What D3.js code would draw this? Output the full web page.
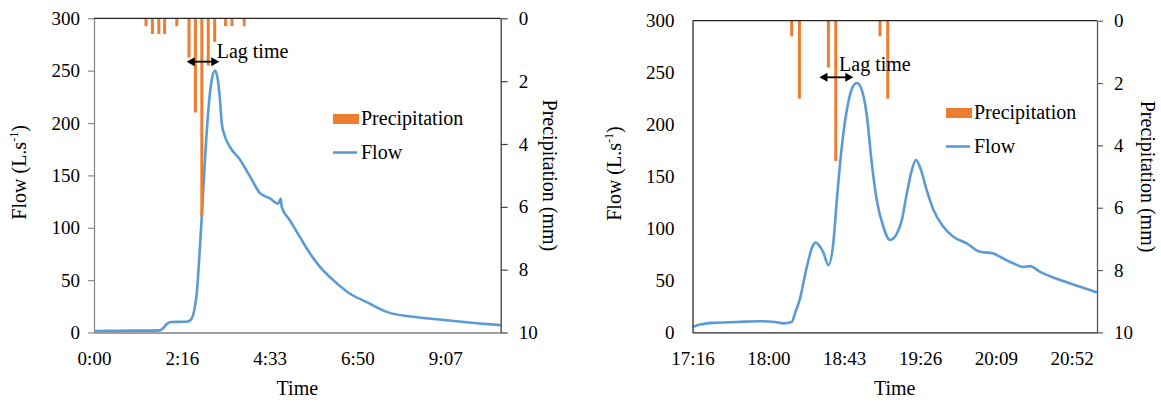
<!DOCTYPE html>
<html><head><meta charset="utf-8">
<script src="https://cdn.jsdelivr.net/npm/d3@7/dist/d3.min.js"></script>
<style>
body{margin:0;background:#fff}
svg{display:block}
svg text{font-family:"Liberation Serif","Times New Roman","DejaVu Serif","Noto Serif",serif !important;fill:#000}
</style>
</head><body>
<svg id="c" width="1161" height="401"></svg>
<script>
// ---------- shared ticks ----------
const flowTicks = [0, 50, 100, 150, 200, 250, 300];
const precipTicks = [0, 2, 4, 6, 8, 10];

// ---------- left event (time in minutes from 0:00) ----------
const leftTimeTicks = [0, 136.8, 273.6, 410.4, 547.2];
const leftTimeLabels = ["0:00", "2:16", "4:33", "6:50", "9:07"];
const leftRainTime = [81, 91, 101, 110, 129, 148, 158, 168, 178, 188, 205, 215, 234];
const leftRainMm   = [0.25, 0.5, 0.5, 0.5, 0.25, 1.25, 3.0, 6.3, 1.5, 0.75, 0.25, 0.25, 0.25];
const leftFlowTime = [0, 40, 80, 102.8, 107.5, 115.3, 121.5, 135, 146.4, 152.7, 157, 160, 165.1, 167.8, 172.9, 178.1, 183.4, 188.5, 192.1, 196.3, 199, 204.1, 211.9, 227.5, 243, 258.6, 274.2, 287.1, 290.9, 292.4, 305.3, 320.9, 336.5, 352.1, 372.8, 398.8, 424.8, 456, 497.4, 549.5, 601.3, 633.6];
const leftFlowVal  = [1.5, 1.7, 1.8, 2, 4, 9, 10, 10.2, 10.5, 14, 24, 37, 82, 110, 165, 212, 241, 250, 244, 222, 200, 187, 177, 165, 149, 133, 128, 123, 128, 120, 107, 91, 75.5, 62.7, 50, 37, 29, 19.7, 15, 11.7, 8.6, 7];
const leftLag = {t0: 144.4, t1: 195.2, flow: 258.6, textT: 191.2, textFlow: 261.8};

// ---------- right event (time in minutes from midnight) ----------
const rightTimeTicks = [1036.8, 1080, 1123.2, 1166.4, 1209.6, 1252.8];
const rightTimeLabels = ["17:16", "18:00", "18:43", "19:26", "20:09", "20:52"];
const rightRainTime = [1093.3, 1097.7, 1114.2, 1118.4, 1143.6, 1148];
const rightRainMm   = [0.5, 2.5, 1.5, 4.5, 0.5, 2.5];
const rightFlowTime = [1037.3, 1041.1, 1048.5, 1062, 1075.3, 1083.8, 1088.5, 1093.3, 1095.5, 1097.8, 1101.9, 1105.2, 1107, 1108.8, 1111.3, 1114.2, 1117, 1119, 1121.8, 1125.6, 1128, 1130.4, 1132.6, 1136, 1138.9, 1141.8, 1145.5, 1149.3, 1153.2, 1156, 1158.9, 1161.7, 1164.1, 1166.4, 1170.2, 1174, 1179.7, 1185.4, 1193, 1200.6, 1208.2, 1212, 1219.6, 1225.3, 1229.1, 1234.8, 1246.2, 1257.6, 1267.1];
const rightFlowVal  = [5.4, 7.5, 9.2, 10, 10.8, 10, 8.7, 10, 20, 31, 63, 83, 86.5, 84, 77, 64.8, 85.7, 127, 178, 222, 236, 240, 236, 210, 163, 127, 101.7, 88.9, 95, 108, 134, 156, 165.9, 159, 137, 118, 101.7, 92, 85.7, 77.6, 76, 72.8, 66.4, 63, 63.8, 58.3, 50.4, 44, 38.5];
const rightLag = {t0: 1109.1, t1: 1128.4, flow: 245.5, textT: 1120.3, textFlow: 251.9};

const ORANGE = "#ED7D31", BLUE = "#5B9BD5";
const FONT = '"Liberation Serif","Times New Roman","DejaVu Serif","Noto Serif",serif';
const svg = d3.select("#c");

function draw(o) {
  const x = d3.scaleLinear().domain(o.xDomain).range([o.x0, o.x1]);
  const y = d3.scaleLinear().domain([0, 300]).range([o.y1, o.y0]);
  const yp = d3.scaleLinear().domain([0, 10]).range([o.y0, o.y1]);
  const g = svg.append("g").attr("font-family", FONT);

  // flow line
  g.append("path")
    .datum(d3.zip(o.flowT, o.flowV))
    .attr("fill", "none").attr("stroke", BLUE).attr("stroke-width", 2.6)
    .attr("stroke-linejoin", "round")
    .attr("d", d3.line().x(d => x(d[0])).y(d => y(d[1])).curve(d3.curveMonotoneX));

  // precipitation bars hanging from the top
  g.selectAll(null).data(d3.zip(o.rainT, o.rainV)).join("rect")
    .attr("x", d => x(d[0]) - 1.5).attr("width", 3)
    .attr("y", yp(0)).attr("height", d => yp(d[1]) - yp(0))
    .attr("fill", ORANGE);

  // axes
  const left = g.append("g").attr("transform", `translate(${o.x0},0)`)
    .call(d3.axisLeft(y).tickValues(flowTicks).tickSize(o.leftTick).tickSizeOuter(0).tickPadding(o.leftPad));
  left.select(".domain").attr("stroke", o.leftColor).attr("stroke-width", 1.3);
  left.selectAll(".tick line").attr("stroke", o.leftColor).attr("stroke-width", 1.2);

  const right = g.append("g").attr("transform", `translate(${o.x1},0)`)
    .call(d3.axisRight(yp).tickValues(precipTicks).tickSize(o.rightTick).tickSizeOuter(0).tickPadding(o.rightPad));
  right.select(".domain").attr("stroke", o.rightColor).attr("stroke-width", 1.3);
  right.selectAll(".tick line").attr("stroke", o.rightColor).attr("stroke-width", 1.2);

  const bottom = g.append("g").attr("transform", `translate(0,${o.y1})`)
    .call(d3.axisBottom(x).tickValues(o.xTicks).tickFormat((d, i) => o.xLabels[i]).tickSize(0).tickSizeOuter(0).tickPadding(19));
  bottom.select(".domain").attr("stroke", o.bottomColor).attr("stroke-width", 1.3);

  [left, right, bottom].forEach(a => a.attr("font-family", FONT).attr("font-size", 19));

  g.append("line").attr("x1", o.x0).attr("x2", o.x1).attr("y1", o.y0).attr("y2", o.y0)
    .attr("stroke", o.topColor).attr("stroke-width", 1.3);

  g.selectAll(".tick text").attr("font-size", 19).attr("fill", "#000");

  // axis titles
  g.append("text").attr("x", (o.x0 + o.x1) / 2).attr("y", 395).attr("text-anchor", "middle")
    .attr("font-size", 20).text("Time");
  const ft = g.append("text").attr("transform", `translate(${o.flowTitleX},${(o.y0 + o.y1) / 2 - 3}) rotate(-90)`)
    .attr("text-anchor", "middle").attr("font-size", 20);
  ft.append("tspan").text("Flow (L.s");
  ft.append("tspan").attr("font-size", 12).attr("dy", -8).text("-1");
  ft.append("tspan").attr("dy", 8).text(")");
  g.append("text").attr("transform", `translate(${o.precTitleX},${(o.y0 + o.y1) / 2}) rotate(90)`)
    .attr("text-anchor", "middle").attr("font-size", 20).text("Precipitation (mm)");

  // legend
  g.append("rect").attr("x", o.legX).attr("y", o.legY - 10).attr("width", 26).attr("height", 10).attr("fill", ORANGE);
  g.append("text").attr("x", o.legX + 28).attr("y", o.legY + 1).attr("font-size", 20).text("Precipitation");
  g.append("line").attr("x1", o.legX).attr("x2", o.legX + 24).attr("y1", o.legY + 28.5).attr("y2", o.legY + 28.5)
    .attr("stroke", BLUE).attr("stroke-width", 2.6);
  g.append("text").attr("x", o.legX + 28).attr("y", o.legY + 35).attr("font-size", 20).text("Flow");

  // lag time annotation
  const L = o.lag, ay = y(L.flow), ax0 = x(L.t0), ax1 = x(L.t1);
  g.append("line").attr("x1", ax0 + 5).attr("x2", ax1 - 5).attr("y1", ay).attr("y2", ay)
    .attr("stroke", "#000").attr("stroke-width", 1.8);
  g.append("path").attr("d", `M${ax0},${ay} l8,-4.5 l0,9 Z M${ax1},${ay} l-8,-4.5 l0,9 Z`).attr("fill", "#000");
  g.append("text").attr("x", x(L.textT)).attr("y", y(L.textFlow)).attr("font-size", 20).text("Lag time");
}

draw({
  xDomain: [0, 633.6], x0: 94, x1: 500.7, y0: 18.3, y1: 332.5,
  xTicks: leftTimeTicks, xLabels: leftTimeLabels,
  rainT: leftRainTime, rainV: leftRainMm, flowT: leftFlowTime, flowV: leftFlowVal,
  leftTick: 6, leftPad: 8, rightTick: 7, rightPad: 11,
  leftColor: "#8c8c8c", bottomColor: "#7f7f7f", topColor: "#262626", rightColor: "#404040",
  flowTitleX: 26, precTitleX: 543,
  legX: 333, legY: 124, lag: leftLag
});

draw({
  xDomain: [1036.8, 1267.2], x0: 692.5, x1: 1097, y0: 20.7, y1: 332.4,
  xTicks: rightTimeTicks, xLabels: rightTimeLabels,
  rainT: rightRainTime, rainV: rightRainMm, flowT: rightFlowTime, flowV: rightFlowVal,
  leftTick: 0, leftPad: 18, rightTick: 6, rightPad: 11,
  leftColor: "#262626", bottomColor: "#262626", topColor: "#262626", rightColor: "#595959",
  flowTitleX: 621, precTitleX: 1141,
  legX: 946, legY: 118, lag: rightLag
});
</script>
</body></html>
